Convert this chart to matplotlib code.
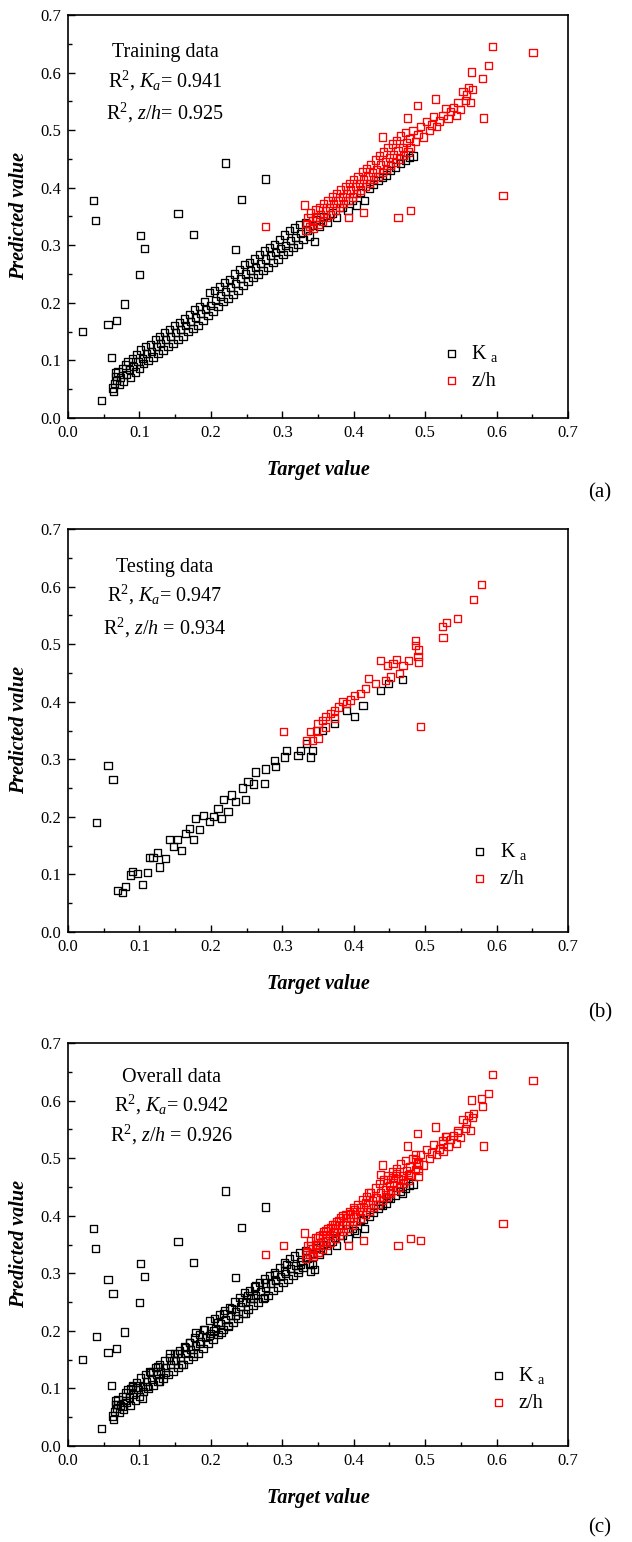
import matplotlib
matplotlib.use("Agg")
import matplotlib.pyplot as plt
import numpy as np

plt.rcParams['font.family'] = ['Liberation Serif', 'DejaVu Serif']
plt.rcParams['mathtext.fontset'] = 'custom'
plt.rcParams['mathtext.rm'] = 'Liberation Serif'
plt.rcParams['mathtext.it'] = 'Liberation Serif:italic'
plt.rcParams['mathtext.bf'] = 'Liberation Serif:bold'

# ---------------- DATA ----------------
# Training data, K_a (target, predicted)
ka_train_x = [0.0355, 0.039, 0.101, 0.107, 0.154, 0.176, 0.220, 0.243, 0.234, 0.276,
              0.020, 0.056, 0.068, 0.0795, 0.100, 0.061, 0.047,
              0.062, 0.064, 0.065, 0.066, 0.067, 0.068, 0.070, 0.072, 0.074, 0.076,
              0.078, 0.080, 0.082, 0.084, 0.086, 0.088, 0.090, 0.092, 0.094, 0.096,
              0.098, 0.100, 0.102, 0.104, 0.106, 0.108, 0.110, 0.112, 0.115, 0.117,
              0.119, 0.122, 0.124, 0.126, 0.128, 0.130, 0.133, 0.135, 0.137, 0.140,
              0.142, 0.144, 0.147, 0.149, 0.151, 0.154, 0.156, 0.158, 0.161, 0.163,
              0.165, 0.168, 0.170, 0.172, 0.175, 0.177, 0.179, 0.182, 0.184, 0.186,
              0.189, 0.191, 0.193, 0.196, 0.198, 0.200, 0.203, 0.205, 0.207, 0.210,
              0.212, 0.214, 0.217, 0.219, 0.221, 0.224, 0.226, 0.228, 0.231, 0.233,
              0.235, 0.238, 0.240, 0.242, 0.245, 0.247, 0.249, 0.252, 0.254, 0.256,
              0.259, 0.261, 0.263, 0.266, 0.268, 0.270, 0.273, 0.275, 0.277, 0.280,
              0.282, 0.284, 0.287, 0.289, 0.291, 0.294, 0.296, 0.298, 0.301, 0.303,
              0.305, 0.308, 0.310, 0.312, 0.315, 0.317, 0.319, 0.322, 0.324, 0.326,
              0.329, 0.332, 0.335, 0.338, 0.345, 0.342, 0.348, 0.352, 0.358, 0.363,
              0.370, 0.376, 0.384, 0.392, 0.404, 0.398, 0.415, 0.410, 0.422, 0.428,
              0.434, 0.440, 0.446, 0.452, 0.458, 0.466, 0.472, 0.478, 0.483]
ka_train_y = [0.378, 0.343, 0.317, 0.295, 0.355, 0.319, 0.443, 0.380, 0.292, 0.415,
              0.150, 0.163, 0.169, 0.198, 0.249, 0.105, 0.030,
              0.052, 0.046, 0.060, 0.072, 0.078, 0.065, 0.080, 0.058, 0.070, 0.086,
              0.064, 0.092, 0.076, 0.098, 0.084, 0.070, 0.104, 0.090, 0.080, 0.110,
              0.098, 0.086, 0.118, 0.104, 0.094, 0.124, 0.112, 0.100, 0.128, 0.116,
              0.106, 0.136, 0.124, 0.112, 0.142, 0.130, 0.118, 0.148, 0.136, 0.124,
              0.154, 0.142, 0.130, 0.160, 0.148, 0.136, 0.166, 0.154, 0.142, 0.172,
              0.160, 0.150, 0.180, 0.168, 0.156, 0.188, 0.174, 0.160, 0.194, 0.182,
              0.170, 0.202, 0.188, 0.178, 0.218, 0.196, 0.186, 0.222, 0.204, 0.194,
              0.228, 0.212, 0.202, 0.236, 0.220, 0.208, 0.240, 0.226, 0.214, 0.250,
              0.234, 0.222, 0.258, 0.242, 0.230, 0.266, 0.250, 0.238, 0.270, 0.256,
              0.244, 0.276, 0.262, 0.250, 0.284, 0.268, 0.256, 0.290, 0.276, 0.262,
              0.296, 0.282, 0.270, 0.302, 0.288, 0.276, 0.310, 0.294, 0.284, 0.318,
              0.300, 0.290, 0.326, 0.308, 0.296, 0.330, 0.314, 0.302, 0.336, 0.320,
              0.310, 0.340, 0.326, 0.316, 0.307, 0.334, 0.344, 0.332, 0.350, 0.340,
              0.356, 0.348, 0.366, 0.360, 0.370, 0.378, 0.378, 0.392, 0.398, 0.406,
              0.412, 0.418, 0.422, 0.430, 0.436, 0.442, 0.448, 0.452, 0.455]

# Training data, z/h (target, predicted)
zh_train_x = [0.276, 0.393, 0.414, 0.462, 0.479, 0.609, 0.582, 0.651, 0.594, 0.589,
              0.580, 0.565, 0.489, 0.515, 0.475, 0.440, 0.331,
              0.332, 0.334, 0.336, 0.338, 0.340, 0.342, 0.344, 0.346, 0.348, 0.350,
              0.352, 0.354, 0.356, 0.358, 0.360, 0.362, 0.364, 0.366, 0.368, 0.370,
              0.372, 0.374, 0.376, 0.378, 0.380, 0.382, 0.384, 0.386, 0.388, 0.390,
              0.392, 0.394, 0.396, 0.398, 0.400, 0.402, 0.404, 0.406, 0.408, 0.410,
              0.412, 0.414, 0.416, 0.418, 0.420, 0.422, 0.424, 0.426, 0.428, 0.430,
              0.432, 0.434, 0.436, 0.438, 0.440, 0.442, 0.444, 0.446, 0.448, 0.450,
              0.452, 0.454, 0.456, 0.458, 0.460, 0.462, 0.464, 0.466, 0.468, 0.470,
              0.472, 0.474, 0.476, 0.478, 0.480, 0.483, 0.486, 0.490, 0.494, 0.498,
              0.502, 0.506, 0.509, 0.512, 0.516, 0.520, 0.525, 0.528, 0.532, 0.535,
              0.540, 0.544, 0.546, 0.550, 0.553, 0.556, 0.558, 0.561, 0.563, 0.566]
zh_train_y = [0.333, 0.348, 0.357, 0.348, 0.360, 0.387, 0.521, 0.635, 0.645, 0.612,
              0.590, 0.601, 0.543, 0.554, 0.521, 0.488, 0.370,
              0.326, 0.338, 0.348, 0.332, 0.356, 0.342, 0.330, 0.362, 0.348, 0.336,
              0.366, 0.354, 0.342, 0.372, 0.360, 0.348, 0.378, 0.366, 0.354, 0.384,
              0.372, 0.360, 0.390, 0.378, 0.366, 0.396, 0.384, 0.372, 0.402, 0.390,
              0.378, 0.408, 0.396, 0.384, 0.414, 0.402, 0.390, 0.420, 0.408, 0.396,
              0.428, 0.414, 0.402, 0.434, 0.420, 0.408, 0.440, 0.426, 0.414, 0.448,
              0.432, 0.420, 0.456, 0.440, 0.426, 0.462, 0.446, 0.432, 0.470, 0.452,
              0.438, 0.476, 0.458, 0.444, 0.482, 0.464, 0.450, 0.490, 0.470, 0.456,
              0.496, 0.478, 0.462, 0.486, 0.470, 0.500, 0.480, 0.492, 0.506, 0.488,
              0.515, 0.500, 0.509, 0.524, 0.506, 0.516, 0.526, 0.538, 0.520, 0.532,
              0.540, 0.526, 0.548, 0.536, 0.567, 0.552, 0.561, 0.574, 0.548, 0.570]

# Testing data, K_a
ka_test_x = [0.056, 0.063, 0.040,
             0.069, 0.076, 0.080, 0.087, 0.090, 0.097, 0.104, 0.111, 0.114, 0.119,
             0.125, 0.128, 0.136, 0.142, 0.148, 0.153, 0.159, 0.165, 0.170, 0.176,
             0.179, 0.184, 0.190, 0.198, 0.204, 0.210, 0.215, 0.218, 0.224, 0.229,
             0.235, 0.244, 0.249, 0.252, 0.260, 0.262, 0.275, 0.277, 0.289, 0.291,
             0.303, 0.306, 0.322, 0.325, 0.339, 0.342, 0.334, 0.356, 0.373, 0.390,
             0.401, 0.413, 0.438, 0.449, 0.468]
ka_test_y = [0.289, 0.265, 0.190,
             0.072, 0.068, 0.079, 0.099, 0.105, 0.102, 0.083, 0.104, 0.129, 0.129,
             0.138, 0.113, 0.127, 0.161, 0.148, 0.160, 0.142, 0.171, 0.180, 0.160,
             0.197, 0.178, 0.202, 0.192, 0.201, 0.215, 0.197, 0.230, 0.209, 0.238,
             0.226, 0.250, 0.230, 0.262, 0.257, 0.278, 0.258, 0.283, 0.298, 0.287,
             0.304, 0.315, 0.306, 0.315, 0.304, 0.315, 0.327, 0.350, 0.362, 0.385,
             0.374, 0.394, 0.420, 0.432, 0.439]

# Testing data, z/h
zh_test_x = [0.302, 0.493, 0.579, 0.568, 0.545, 0.530, 0.524, 0.525, 0.486, 0.487,
             0.491, 0.490, 0.491, 0.477, 0.460, 0.438, 0.447, 0.455, 0.464, 0.469,
             0.452, 0.444, 0.421, 0.430, 0.416, 0.410, 0.401, 0.396, 0.390, 0.384,
             0.379, 0.373, 0.367, 0.361, 0.356, 0.350, 0.348, 0.339, 0.334, 0.342,
             0.350, 0.361, 0.373]
zh_test_y = [0.348, 0.357, 0.603, 0.577, 0.545, 0.537, 0.530, 0.511, 0.506, 0.498,
             0.490, 0.478, 0.469, 0.472, 0.473, 0.472, 0.463, 0.466, 0.449, 0.463,
             0.443, 0.437, 0.440, 0.432, 0.423, 0.414, 0.411, 0.403, 0.397, 0.400,
             0.391, 0.385, 0.379, 0.374, 0.368, 0.362, 0.350, 0.348, 0.333, 0.333,
             0.336, 0.356, 0.371]

panel_titles = ["Training data", "Testing data", "Overall data"]
r2_ka = ["0.941", "0.947", "0.942"]
r2_zh = ["0.925", "0.934", "0.926"]
panel_tags = ["(a)", "(b)", "(c)"]
xticks = [0.0, 0.1, 0.2, 0.3, 0.4, 0.5, 0.6, 0.7]

datasets = [
    (ka_train_x, ka_train_y, zh_train_x, zh_train_y),
    (ka_test_x, ka_test_y, zh_test_x, zh_test_y),
    (ka_train_x + ka_test_x, ka_train_y + ka_test_y,
     zh_train_x + zh_test_x, zh_train_y + zh_test_y),
]

# ---------------- LAYOUT ----------------
W, H = 632, 1542
fig = plt.figure(figsize=(W / 100, H / 100), dpi=100)

ax_left, ax_w, ax_h = 68, 500, 403
ax_bottoms = [418, 932, 1446]  # y pixel (from top) of x-axis
text_cx = [0.194, 0.194, 0.206]
text_y = [(0.908, 0.836, 0.758), (0.905, 0.836, 0.754), (0.915, 0.847, 0.773)]
leg_anchor = [(0.718, 0.222), (0.775, 0.262), (0.812, 0.237)]
tag_y = [493, 1013, 1528]
zh_eq = ["= ", " = ", " = "]

for i, (kx, ky, zx, zy) in enumerate(datasets):
    b = ax_bottoms[i]
    ax = fig.add_axes([ax_left / W, (H - b) / H, ax_w / W, ax_h / H])
    ax.scatter(kx, ky, s=27, marker='s', facecolors='none', edgecolors='black',
               linewidths=0.95, label=r'K $_{\rm a}$', zorder=2)
    ax.scatter(zx, zy, s=27, marker='s', facecolors='none', edgecolors='#ff0000',
               linewidths=0.95, label='z/h', zorder=3)
    ax.set_xlim(0, 0.7)
    ax.set_ylim(0, 0.7)
    ax.set_xticks(xticks)
    ax.set_yticks(xticks)
    ax.set_xticks(np.arange(0.05, 0.7, 0.1), minor=True)
    ax.set_yticks(np.arange(0.05, 0.7, 0.1), minor=True)
    ax.xaxis.set_major_formatter(matplotlib.ticker.FormatStrFormatter('%.1f'))
    ax.yaxis.set_major_formatter(matplotlib.ticker.FormatStrFormatter('%.1f'))
    ax.tick_params(which='both', direction='in', top=False, right=False,
                   labelsize=12, width=1.0, pad=5)
    ax.tick_params(which='major', length=5)
    ax.tick_params(which='minor', length=3)
    for sp in ax.spines.values():
        sp.set_linewidth(1.2)
    ax.set_xlabel('Target value', fontsize=14.5, fontweight='bold', fontstyle='italic')
    ax.set_ylabel('Predicted value', fontsize=14.5, fontweight='bold', fontstyle='italic')
    ax.xaxis.set_label_coords(0.5, -0.105)
    ax.yaxis.set_label_coords(-0.078, 0.5)

    ty = text_y[i]
    ax.text(text_cx[i], ty[0], panel_titles[i], transform=ax.transAxes,
            ha='center', va='center', fontsize=14.5)
    ax.text(text_cx[i], ty[1], r'R$^2$, $K_a$= ' + r2_ka[i], transform=ax.transAxes,
            ha='center', va='center', fontsize=14.5)
    ax.text(text_cx[i], ty[2], r'R$^2$, $z/h$' + zh_eq[i] + r2_zh[i],
            transform=ax.transAxes, ha='center', va='center', fontsize=14.5)

    ax.legend(loc='upper left', bbox_to_anchor=leg_anchor[i], frameon=False,
              fontsize=14.5, handletextpad=0.5, labelspacing=0.4,
              borderpad=0.2, handlelength=1.0, markerscale=1.0)

    fig.text(600 / W, 1 - tag_y[i] / H, panel_tags[i], ha='center', va='center',
             fontsize=15)

fig.savefig('out.png', dpi=100)
